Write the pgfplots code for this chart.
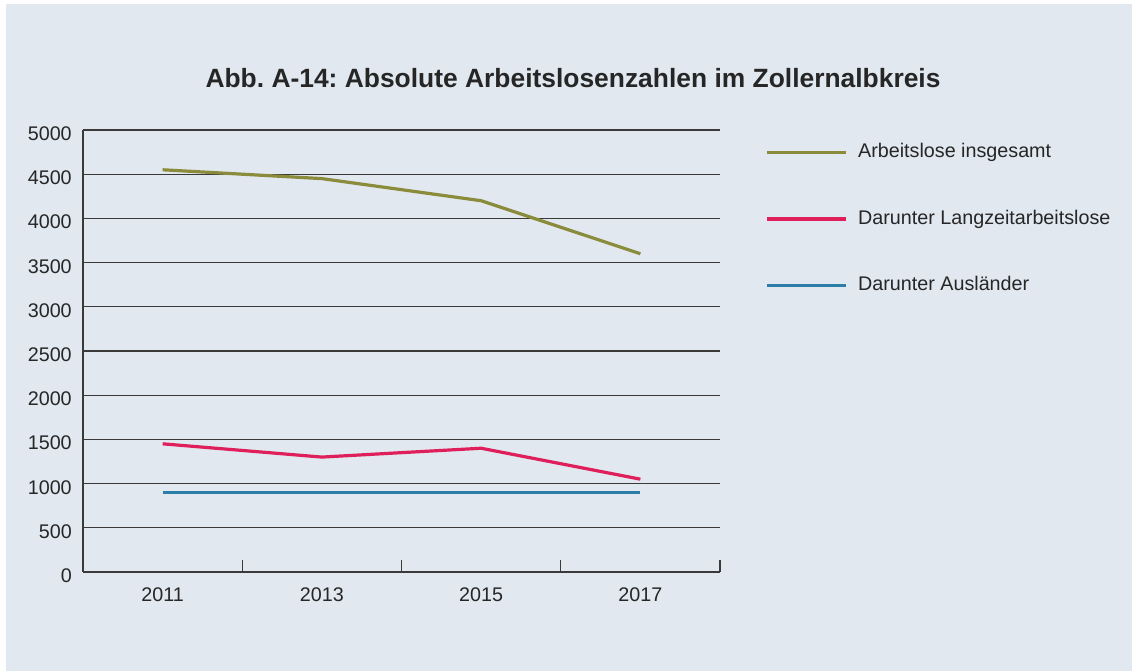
\documentclass[border=0pt]{standalone}
\usepackage{pgfplots}
\pgfplotsset{compat=1.18}
\usepackage{fontspec}
\setmainfont{Liberation Sans}
\definecolor{bg}{HTML}{E1E8F0}
\definecolor{cgreen}{HTML}{8A8B3B}
\definecolor{cred}{HTML}{DF1F5B}
\definecolor{cblue}{HTML}{2B7EA8}
\definecolor{gridc}{HTML}{3A3A3A}
\begin{document}
\frenchspacing
\begin{tikzpicture}
% 1 px of the reference = 0.75pt
\fill[white] (0pt,0pt) rectangle (849pt,503.25pt);
\fill[bg] (4.5pt,0pt) rectangle (849pt,500.25pt);
\node[anchor=base,font=\bfseries\fontsize{19.8}{23}\selectfont,text=black!85] at (429.75pt,437.25pt)
  {Abb. A-14: Absolute Arbeitslosenzahlen im Zollernalbkreis};
\begin{axis}[at={(62.25pt,74.25pt)},anchor=south west,
  width=477.75pt,height=331.5pt,scale only axis,
  xmin=2010,xmax=2018,ymin=0,ymax=5000,
  axis x line*=bottom,axis y line*=left,
  axis line style={gridc,line width=0.8pt},
  xtick={2011,2013,2015,2017},minor xtick={2012,2014,2016,2018},
  ytick={0,500,...,5000},ymajorgrids,grid style={gridc,line width=0.8pt},
  major tick length=0pt,minor tick length=9pt,tick align=inside,
  minor tick style={gridc,line width=0.8pt},
  /pgf/number format/1000 sep={},
  /pgf/number format/assume math mode=true,
  tick label style={font=\fontsize{14.8}{17}\selectfont,text=black!85},
  xticklabel style={anchor=base,yshift=-22.3pt,inner sep=0pt},
  yticklabel style={anchor=east,xshift=-8.25pt,yshift=-2.8pt,inner sep=0pt},
  legend image code/.code={\draw[#1] (0pt,0pt) -- (59.25pt,0pt);},
  legend cell align=left,
  legend style={at={(1.0707,0.9715)},anchor=north west,draw=none,fill=none,
    inner sep=0pt,row sep=35.4pt,column sep=8pt,
    nodes={inner sep=0pt,text height=11pt,text depth=3.5pt,
      font=\fontsize{14.8}{17}\selectfont,text=black!85}},
]
\addplot[cgreen,line width=2.4pt] coordinates {(2011,4550)(2013,4450)(2015,4200)(2017,3600)};
\addplot[cred,line width=2.4pt] coordinates {(2011,1450)(2013,1300)(2015,1400)(2017,1050)};
\addplot[cblue,line width=2.4pt] coordinates {(2011,900)(2013,900)(2015,900)(2017,900)};
\legend{Arbeitslose insgesamt,Darunter Langzeitarbeitslose,Darunter Ausländer}
\end{axis}
\end{tikzpicture}
\end{document}
